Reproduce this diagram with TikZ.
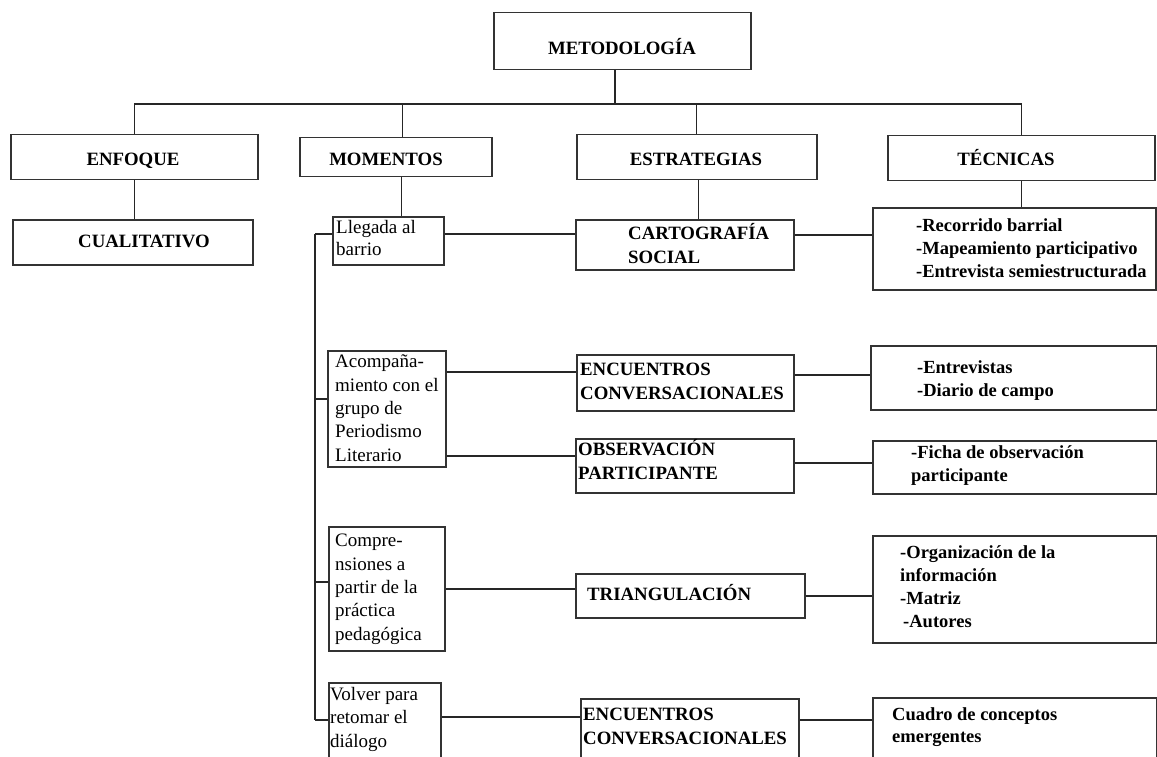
\documentclass[tikz,border=0pt]{standalone}
\usepackage{fontspec}
\setmainfont{Liberation Serif}
\newcommand\bx[5]{\node[box, minimum width={#4-#2}, minimum height={#5-#3}] (#1) at (#2,#3) {};}
\begin{document}
\begin{tikzpicture}[x=1pt,y=-1pt,
  box/.style={draw=black!80, line width=1.5pt, inner sep=0pt, anchor=north west},
  conn/.style={draw=black!85, line width=1.4pt},
  hd/.style={font=\fontsize{18.8}{23}\selectfont\bfseries, inner sep=0pt, anchor=base},
  hdl/.style={font=\fontsize{18.8}{23.3}\selectfont\bfseries, inner sep=0pt, align=left, anchor=base west},
  tx/.style={font=\fontsize{19}{23.3}\selectfont, inner sep=0pt, align=left, anchor=base west},
  lst/.style={font=\fontsize{18.5}{23}\selectfont\bfseries, inner sep=0pt, align=left, anchor=base west}]
\clip (0,0) rectangle (1157,757);
\fill[white] (0,0) rectangle (1157,757);
% boxes
\bx{met}{493}{12}{750}{69}
\bx{enf}{10}{134}{257}{179}
\bx{mom}{299}{137}{491}{176}
\bx{est}{576}{134}{816}{179}
\bx{tec}{887}{135}{1154}{180}
\bx{cual}{12}{219}{252}{264}
\bx{lleg}{332}{216}{443}{264}
\bx{cart}{575}{219}{793}{269}
\bx{rec}{872}{207}{1155}{289}
\bx{acomp}{327}{350}{445}{466}
\bx{enca}{576}{354}{793}{410}
\bx{obs}{575}{438}{793}{492}
\bx{entr}{870}{345}{1156}{409}
\bx{ficha}{872}{440}{1156}{493}
\bx{compre}{328}{526}{444}{650}
\bx{tri}{575}{573}{804}{617}
\bx{org}{872}{535}{1156}{642}
\bx{volver}{328}{682}{440}{775}
\bx{encb}{580}{698}{798}{775}
\bx{cuadro}{872}{697}{1156}{775}
% texts (multi-line: base anchor = baseline of last line)
\node[hd] (tmet) at (622,55) {METODOLOGÍA};
\node[hd] (tenf) at (133,165) {ENFOQUE};
\node[hd] (tmom) at (386,166) {MOMENTOS};
\node[hd] (test) at (696,165) {ESTRATEGIAS};
\node[hd] (ttec) at (1006,166) {TÉCNICAS};
\node[hd] (tcual) at (144,247) {CUALITATIVO};
\node[hdl] (tcart) at (628,263) {CARTOGRAFÍA\\SOCIAL};
\node[lst] (trec) at (916,277) {-Recorrido barrial\\-Mapeamiento participativo\\-Entrevista semiestructurada};
\node[tx, font=\fontsize{19}{21.7}\selectfont] (tlleg) at (336,255) {Llegada al\\barrio};
\node[tx] (tacomp) at (335,461) {Acompaña-\\miento con el\\grupo de\\Periodismo\\Literario};
\node[hdl] (tenca) at (580,399) {ENCUENTROS\\CONVERSACIONALES};
\node[hdl] (tobs) at (578,479) {OBSERVACIÓN\\PARTICIPANTE};
\node[lst] (tentr) at (917,396) {-Entrevistas\\-Diario de campo};
\node[lst] (tficha) at (911,481) {-Ficha de observación\\participante};
\node[tx] (tcompre) at (335,640) {Compre-\\nsiones a\\partir de la\\práctica\\pedagógica};
\node[hdl] (ttri) at (587,600) {TRIANGULACIÓN};
\node[lst] (torg) at (900,627) {-Organización de la\\información\\-Matriz\\\hspace*{3pt}-Autores};
\node[tx] (tvolver) at (330,747) {Volver para\\retomar el\\diálogo};
\node[hdl] (tencb) at (583,744) {ENCUENTROS\\CONVERSACIONALES};
\node[lst, font=\fontsize{18.5}{21.7}\selectfont\bfseries] (tcuadro) at (892,742) {Cuadro de conceptos\\emergentes};
% hub
\coordinate (jm) at (615,104);
\draw[conn] (jm |- met.south) -- (jm);
\draw[conn] (enf.north) |- (jm) -| (tec.north);
\draw[conn] ([xshift=7pt]mom.north) -- ([xshift=7pt]mom.north |- jm);
\draw[conn] (est.north) -- (est.north |- jm);
% vertical links
\draw[conn] (enf.south) -- (enf.south |- cual.north);
\draw[conn] ([xshift=6pt]mom.south) -- ([xshift=6pt]mom.south |- lleg.north);
\draw[conn] ([xshift=2pt]est.south) -- ([xshift=2pt]est.south |- cart.north);
\draw[conn] (tec.south) -- (tec.south |- rec.north);
% momentos bus
\coordinate (b1) at (315,234);
\coordinate (b2) at (315,399);
\coordinate (b3) at (315,582);
\coordinate (b4) at (315,720);
\draw[conn] (b1) -- (b4);
\draw[conn] (b1) -- (b1 -| lleg.west);
\draw[conn] (b2) -- (b2 -| acomp.west);
\draw[conn] (b3) -- (b3 -| compre.west);
\draw[conn] (b4) -- (b4 -| volver.west);
% horizontal links
\coordinate (h1) at (0,234);
\coordinate (h2) at (0,235);
\coordinate (h3) at (0,372);
\coordinate (h4) at (0,456);
\coordinate (h5) at (0,375);
\coordinate (h6) at (0,463);
\coordinate (h7) at (0,589);
\coordinate (h8) at (0,596);
\coordinate (h9) at (0,717);
\coordinate (h10) at (0,720);
\draw[conn] (h1 -| lleg.east) -- (h1 -| cart.west);
\draw[conn] (h2 -| cart.east) -- (h2 -| rec.west);
\draw[conn] (h3 -| acomp.east) -- (h3 -| enca.west);
\draw[conn] (h4 -| acomp.east) -- (h4 -| obs.west);
\draw[conn] (h5 -| enca.east) -- (h5 -| entr.west);
\draw[conn] (h6 -| obs.east) -- (h6 -| ficha.west);
\draw[conn] (h7 -| compre.east) -- (h7 -| tri.west);
\draw[conn] (h8 -| tri.east) -- (h8 -| org.west);
\draw[conn] (h9 -| volver.east) -- (h9 -| encb.west);
\draw[conn] (h10 -| encb.east) -- (h10 -| cuadro.west);
\end{tikzpicture}
\end{document}
